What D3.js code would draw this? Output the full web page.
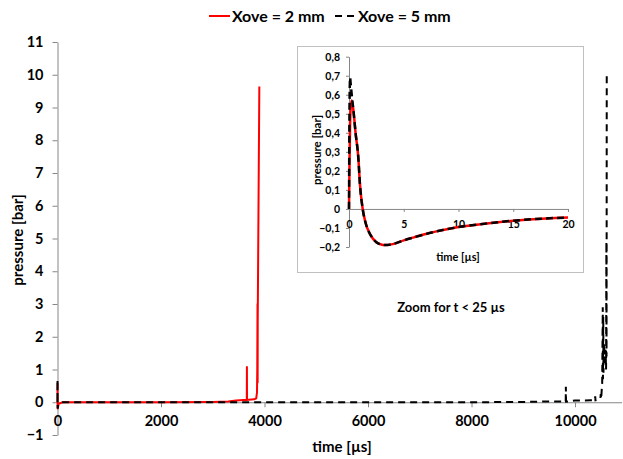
<!DOCTYPE html>
<html>
<head>
<meta charset="utf-8">
<script src="https://d3js.org/d3.v7.min.js"></script>
<style>
  body { margin: 0; background: #fff; }
  svg { display: block; font-family: Lato, "Open Sans", sans-serif; font-weight: bold; }
</style>
</head>
<body>
<script>

// main chart, full record (time in µs, pressure in bar)
var redTime = [0, 0.25, 1.25, 3.3, 20, 100, 500, 1000, 2000, 3000, 3300, 3450, 3600, 3658, 3660, 3662, 3700, 3800, 3840, 3855, 3860, 3865, 3867, 3869, 3872, 3900];
var redP    = [0, 0.57, 0, -0.19, -0.05, 0, 0, 0, 0, 0.01, 0.02, 0.05, 0.07, 0.07, 1.08, 0.07, 0.08, 0.09, 0.12, 0.3, 1.0, 3.0, 0.6, 2.5, 3.2, 9.64];

var blackTime = [0, 0.1, 1.25, 3.3, 20, 100, 1000, 5000, 8000, 9000, 9400, 9820, 9823, 9826, 10000, 10300, 10385, 10390, 10395, 10450, 10490, 10497, 10505, 10525, 10536, 10540, 10545, 10550, 10560, 10575, 10590, 10600, 10606, 10609, 10611, 10613];
var blackP    = [0, 0.69, 0, -0.19, -0.05, 0, 0, 0, 0, 0.01, 0.02, 0.02, 0.47, 0.02, 0.05, 0.06, 0.06, 0.18, 0.06, 0.08, 0.1, 0.25, 0.1, 0.6, 2.9, 0.7, 2.6, 0.9, 1.8, 1.2, 1.6, 1.0, 4.9, 1.4, 4.6, 10.05];

// zoom, first 20 µs
var zoomTime   = [0, 0.05, 0.1, 0.15, 0.25, 0.4, 0.6, 0.85, 1.0, 1.25, 1.5, 2.0, 2.5, 3.0, 3.3, 4, 5, 6, 7, 8, 10, 12, 15, 18, 20];
var zoomRedP   = [0, 0.25, 0.45, 0.53, 0.57, 0.52, 0.4, 0.27, 0.13, 0, -0.07, -0.14, -0.175, -0.188, -0.19, -0.185, -0.165, -0.148, -0.132, -0.118, -0.095, -0.08, -0.062, -0.05, -0.045];
var zoomBlackP = [0, 0.55, 0.69, 0.66, 0.6, 0.52, 0.4, 0.27, 0.13, 0, -0.07, -0.14, -0.175, -0.188, -0.19, -0.185, -0.165, -0.148, -0.132, -0.118, -0.095, -0.08, -0.062, -0.05, -0.045];

var xTicks = [0, 2000, 4000, 6000, 8000, 10000];
var yTicks = [-1, 0, 1, 2, 3, 4, 5, 6, 7, 8, 9, 10, 11];
var zoomXTicks = [0, 5, 10, 15, 20];
var zoomYTicks = [-0.2, -0.1, 0, 0.1, 0.2, 0.3, 0.4, 0.5, 0.6, 0.7, 0.8];
var seriesNames = ["Xove = 2 mm", "Xove = 5 mm"];

var width = 623, height = 459;
var axisColor = "#868686";

var svg = d3.select("body").append("svg")
    .attr("width", width)
    .attr("height", height);

var x = d3.scaleLinear().domain([0, 10900]).range([57.5, 621.6]);
var y = d3.scaleLinear().domain([-1, 11]).range([435, 42]);

function pairs(t, p) {
  return t.map(function(d, i) { return [d, p[i]]; });
}

var line = d3.line()
    .x(function(d) { return x(d[0]); })
    .y(function(d) { return y(d[1]); });

// axes
var yAxis = svg.append("g")
    .attr("transform", "translate(" + x(0) + ",0)")
    .call(d3.axisLeft(y).tickValues(yTicks).tickSize(5).tickSizeOuter(0).tickPadding(9).tickFormat(d3.format("d")));

var xAxis = svg.append("g")
    .attr("transform", "translate(0," + y(0) + ")")
    .call(d3.axisBottom(x).tickValues(xTicks).tickSize(5).tickSizeOuter(0).tickPadding(8).tickFormat(d3.format("d")));

[yAxis, xAxis].forEach(function(a) {
  a.selectAll("path, line").attr("stroke", axisColor);
  a.selectAll("text").attr("fill", "#000").style("font-size", "14.5px").style("font-weight", "bold").style("font-family", "Lato, sans-serif");
});

svg.append("text")
    .attr("transform", "translate(18,240) rotate(-90)")
    .attr("text-anchor", "middle")
    .attr("dy", "0.35em")
    .style("font-size", "15px")
    .text("pressure [bar]");

svg.append("text")
    .attr("x", 342).attr("y", 447)
    .attr("text-anchor", "middle")
    .attr("dy", "0.35em")
    .style("font-size", "15px")
    .text("time [µs]");

// series
svg.append("path")
    .datum(pairs(redTime, redP))
    .attr("fill", "none")
    .attr("stroke", "#ff0000")
    .attr("stroke-width", 2)
    .attr("stroke-linejoin", "round")
    .attr("d", line);

svg.append("path")
    .datum(pairs(blackTime, blackP))
    .attr("fill", "none")
    .attr("stroke", "#000")
    .attr("stroke-width", 2)
    .attr("stroke-dasharray", "7,5")
    .attr("d", line);

// legend
var legend = svg.append("g");
var legendX = [209, 335];
seriesNames.forEach(function(name, i) {
  legend.append("line")
      .attr("x1", legendX[i]).attr("x2", legendX[i] + 21)
      .attr("y1", 16).attr("y2", 16)
      .attr("stroke", i == 0 ? "#ff0000" : "#000")
      .attr("stroke-width", 2)
      .attr("stroke-dasharray", i == 0 ? null : "7,5");
  legend.append("text")
      .attr("x", legendX[i] + 23).attr("y", 16)
      .attr("dy", "0.35em")
      .style("font-size", "16px")
      .text(name);
});

svg.append("text")
    .attr("x", 451).attr("y", 307)
    .attr("text-anchor", "middle")
    .attr("dy", "0.35em")
    .style("font-size", "13px")
    .text("Zoom for t < 25 µs");

// inset
svg.append("rect")
    .attr("x", 297.5).attr("y", 46.5)
    .attr("width", 286).attr("height", 226)
    .attr("fill", "#fff")
    .attr("stroke", "#c0c0c0");

var zx = d3.scaleLinear().domain([0, 20]).range([349, 568]);
var zy = d3.scaleLinear().domain([-0.2, 0.8]).range([247, 56.7]);

var commaFmt = function(d) { return Math.abs(d) < 1e-9 ? "0" : d3.format(".1f")(d).replace(".", ","); };

var zyAxis = svg.append("g")
    .attr("transform", "translate(" + zx(0) + ",0)")
    .call(d3.axisLeft(zy).tickValues(zoomYTicks).tickSize(3).tickSizeOuter(0).tickPadding(6).tickFormat(commaFmt));

var zxAxis = svg.append("g")
    .attr("transform", "translate(0," + zy(0) + ")")
    .call(d3.axisBottom(zx).tickValues(zoomXTicks).tickSize(3).tickSizeOuter(0).tickPadding(9).tickFormat(d3.format("d")));

[zyAxis, zxAxis].forEach(function(a) {
  a.selectAll("path, line").attr("stroke", axisColor);
  a.selectAll("text").attr("fill", "#000").style("font-size", "10.5px").style("font-weight", "bold").style("font-family", "Lato, sans-serif");
});

svg.append("text")
    .attr("transform", "translate(317,150) rotate(-90)")
    .attr("text-anchor", "middle")
    .attr("dy", "0.35em")
    .style("font-size", "11.5px")
    .text("pressure [bar]");

svg.append("text")
    .attr("x", 458).attr("y", 257)
    .attr("text-anchor", "middle")
    .attr("dy", "0.35em")
    .style("font-size", "11px")
    .text("time [µs]");

var zline = d3.line()
    .curve(d3.curveMonotoneX)
    .x(function(d) { return zx(d[0]); })
    .y(function(d) { return zy(d[1]); });

svg.append("path")
    .datum(pairs(zoomTime, zoomRedP))
    .attr("fill", "none")
    .attr("stroke", "#ff0000")
    .attr("stroke-width", 2.5)
    .attr("d", zline);

svg.append("path")
    .datum(pairs(zoomTime, zoomBlackP))
    .attr("fill", "none")
    .attr("stroke", "#000")
    .attr("stroke-width", 2.5)
    .attr("stroke-dasharray", "7,4")
    .attr("d", zline);

</script>
</body>
</html>
